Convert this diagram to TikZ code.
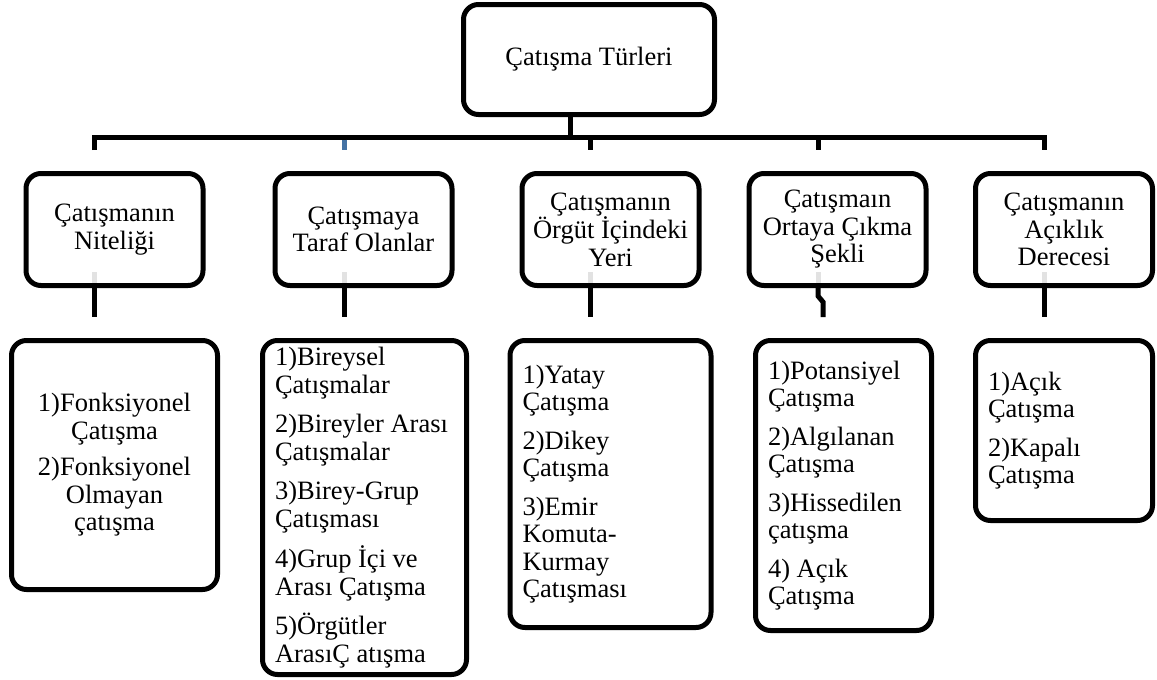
\documentclass[tikz,border=0pt]{standalone}
\usepackage{fontspec}
\setmainfont{Liberation Serif}
\usepackage{tikz}
\usetikzlibrary{positioning}
\definecolor{stemblue}{HTML}{4472A4}
\definecolor{faintgray}{HTML}{E2E2E2}
\tikzset{
	every node/.append style={
		font={\fontsize{26.5}{27.5}\selectfont},
	},
	kind/.append style={
		draw,
		line width=5pt,
		rounded corners=15pt,
		align = center,
		inner sep=0pt,
	},
	itembox/.append style={
		kind,
		align = flush left,
		inner xsep=12.5pt,
	},
	wire/.append style={
		line width=5pt,
	}
}

\begin{document}
\begin{tikzpicture}[
	x=1pt, y=1pt,
	head/.style = {kind, minimum width=251pt, minimum height=110pt},
	group/.style = {kind, minimum width=177pt, minimum height=112pt}
	]
	\useasboundingbox (0,0) rectangle (1157,-680);

	\node[head] (root) at (589,-59.5) {Çatışma Türleri};

	\node[group] (nature) at (114.5,-229.5) {Çatışmanın\\Niteliği};
	\node[group] (parties) at (363.5,-229.5) {Çatışmaya\\Taraf Olanlar};
	\node[group] (place) at (610.5,-229.5) {Çatışmanın\\Örgüt İçindeki\\Yeri};
	\node[group] (emerge) at (837.5,-229.5) {Çatışmaın\\Ortaya Çıkma\\Şekli};
	\node[group] (open) at (1064,-229.5) {Çatışmanın\\Açıklık\\Derecesi};

	% Lists below each group
	\node[itembox, align=center, text width=181pt, minimum height=249pt, below=50pt of nature]
		(naturelist) {1)Fonksiyonel\\Çatışma\\[9pt]2)Fonksiyonel\\Olmayan\\çatışma};
	\node[itembox, text width=179pt, minimum height=334pt, below=50pt of parties, xshift=1pt]
		(partieslist) {1)Bireysel\\Çatışmalar\\[12pt]2)Bireyler Arası\\Çatışmalar\\[12pt]3)Birey-Grup\\Çatışması\\[12pt]4)Grup İçi ve\\Arası Çatışma\\[12pt]5)Örgütler\\ArasıÇ atışma};
	\node[itembox, text width=176pt, minimum height=287pt, below=50pt of place]
		(placelist) {1)Yatay\\Çatışma\\[11pt]2)Dikey\\Çatışma\\[11pt]3)Emir\\Komuta-\\Kurmay\\Çatışması};
	\node[itembox, text width=151pt, minimum height=290pt, below=50pt of emerge, xshift=6pt]
		(emergelist) {1)Potansiyel\\Çatışma\\[11pt]2)Algılanan\\Çatışma\\[11pt]3)Hissedilen\\çatışma\\[11pt]4) Açık\\Çatışma};
	\node[itembox, text width=152pt, minimum height=180pt, below=50pt of open]
		(openlist) {1)Açık\\Çatışma\\[11pt]2)Kapalı\\Çatışma};

	% Bar and drops
	\coordinate (hub) at (570,-137);
	\coordinate (d1) at (94,-137);
	\coordinate (d2) at (344,-137);
	\coordinate (d3) at (590,-137);
	\coordinate (d4) at (818,-137);
	\coordinate (d5) at (1044,-137);

	\draw[wire] (root.south -| hub) -- (hub);
	\draw[wire] ([yshift=-13pt]d1) -- (d1) -- (d5) -- ++(0,-13);
	\draw[wire, stemblue] (d2) ++(0,-2.5) -- ++(0,-10.5);
	\draw[wire] (d3) -- ++(0,-13);
	\draw[wire] (d4) -- ++(0,-13);

	% faint stubs inside the group boxes
	\draw[wire, faintgray] (nature.south -| d1) ++(0,5) -- ++(0,11);
	\draw[wire, faintgray] (parties.south -| d2) ++(0,5) -- ++(0,11);
	\draw[wire, faintgray] (place.south -| d3) ++(0,5) -- ++(0,11);
	\draw[wire, faintgray] (emerge.south -| d4) ++(0,5) -- ++(0,11);
	\draw[wire, faintgray] (open.south -| d5) ++(0,5) -- ++(0,11);

	\draw[wire] (nature.south -| d1) -- ++(0,-29);
	\draw[wire] (parties.south -| d2) -- ++(0,-29);
	\draw[wire] (place.south -| d3) -- ++(0,-29);
	\draw[wire] (emerge.south -| d4) -- ++(0,-8) -- ++(5,-6) -- ++(0,-15);
	\draw[wire] (open.south -| d5) -- ++(0,-29);

\end{tikzpicture}
\end{document}
